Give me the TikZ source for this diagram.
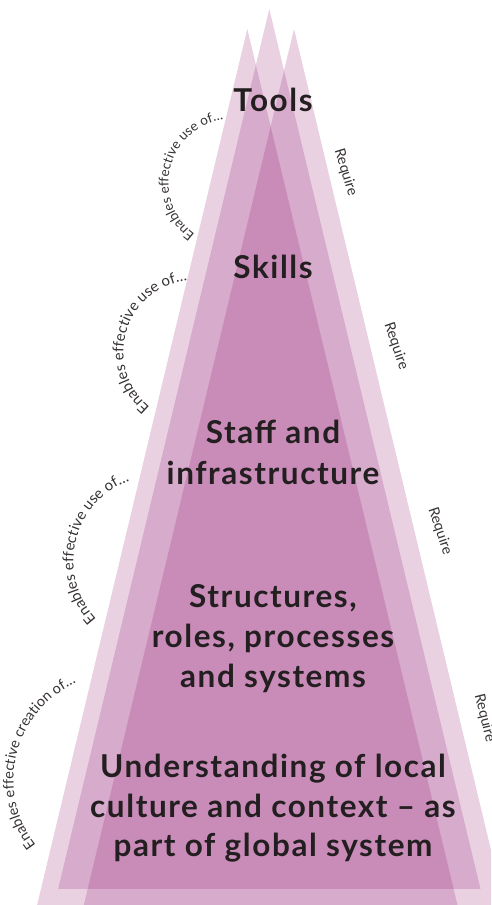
\documentclass[tikz,border=0pt]{standalone}
\usepackage{fontspec}
\setmainfont{Lato}
\newfontfamily\tierfont{Lato}[LetterSpace=5]
\usetikzlibrary{decorations.text,calc}
\definecolor{plum}{RGB}{139,8,102}
\definecolor{ink}{RGB}{35,31,32}
\definecolor{labelink}{RGB}{55,50,53}
\begin{document}
\begin{tikzpicture}[x=1pt,y=1pt,
  layer/.style={fill=plum, fill opacity=0.19, draw=none},
  tier/.style={font=\tierfont\bfseries\fontsize{31.5}{31.5}\selectfont, text=ink, anchor=base, inner sep=0pt},
  need/.style={font=\fontsize{14.5}{14.5}\selectfont, text=labelink, anchor=center, inner sep=0pt},
  arclabel/.style 2 args={decorate, decoration={text along path, text align=center,
      text={|\fontsize{#1}{#1}\selectfont\color{labelink}|#2}}}
]
\useasboundingbox (0,0) rectangle (491,905);
\clip (0,0) rectangle (491,905);

% three overlapping translucent pyramids
\fill[layer] (37.1,0) -- (247.3,876) -- (457.5,0) -- cycle;
\fill[layer] (83.8,0) -- (294,876) -- (504.2,0) -- cycle;
\fill[layer] (58.1,16) -- (269.3,896) -- (480.5,16) -- cycle;

% tiers, top to bottom
\node[tier] (tools)   at (273,793) {Tools};
\node[tier] (skills)  at (273,626) {Skills};
\node[tier] (staffa)  at (273,461) {Staff and};
\node[tier] (staffb)  at (273,420) {infrastructure};
\node[tier] (structa) at (273,297) {Structures,};
\node[tier] (structb) at (273,257) {roles, processes};
\node[tier] (structc) at (273,217) {and systems};
\node[tier] (undera)  at (273,127) {Understanding of local};
\node[tier] (underb)  at (273,87)  {culture and context – as};
\node[tier] (underc)  at (273,48)  {part of global system};

% "Require" links on the right-hand side
\node[need, rotate=-73] (req1) at (345.5,732.5) {Require};
\node[need, rotate=-71] (req2) at (396,559) {Require};
\node[need, rotate=-71.5] (req3) at (440,374) {Require};
\node[need, rotate=-76] (req4) at (484.5,187) {Require};

% curved "Enables..." links on the left-hand side
\coordinate (arcA) at (232,722);
\coordinate (arcB) at (195,553);
\coordinate (arcC) at (159,344);
\coordinate (arcD) at (120,125);
\path[arclabel={13.5}{Enables effective use of…}] ($(arcA)+(256:63.5)$) arc[start angle=256, end angle=76, radius=63.5];
\path[arclabel={15}{Enables effective use of…}] ($(arcB)+(253.5:71.5)$) arc[start angle=253.5, end angle=73.5, radius=71.5];
\path[arclabel={15}{Enables effective use of…}] ($(arcC)+(256.5:85.5)$) arc[start angle=256.5, end angle=76.5, radius=85.5];
\path[arclabel={14.5}{Enables effective creation of…}] ($(arcD)+(256:106.5)$) arc[start angle=256, end angle=76, radius=106.5];
\end{tikzpicture}
\end{document}
